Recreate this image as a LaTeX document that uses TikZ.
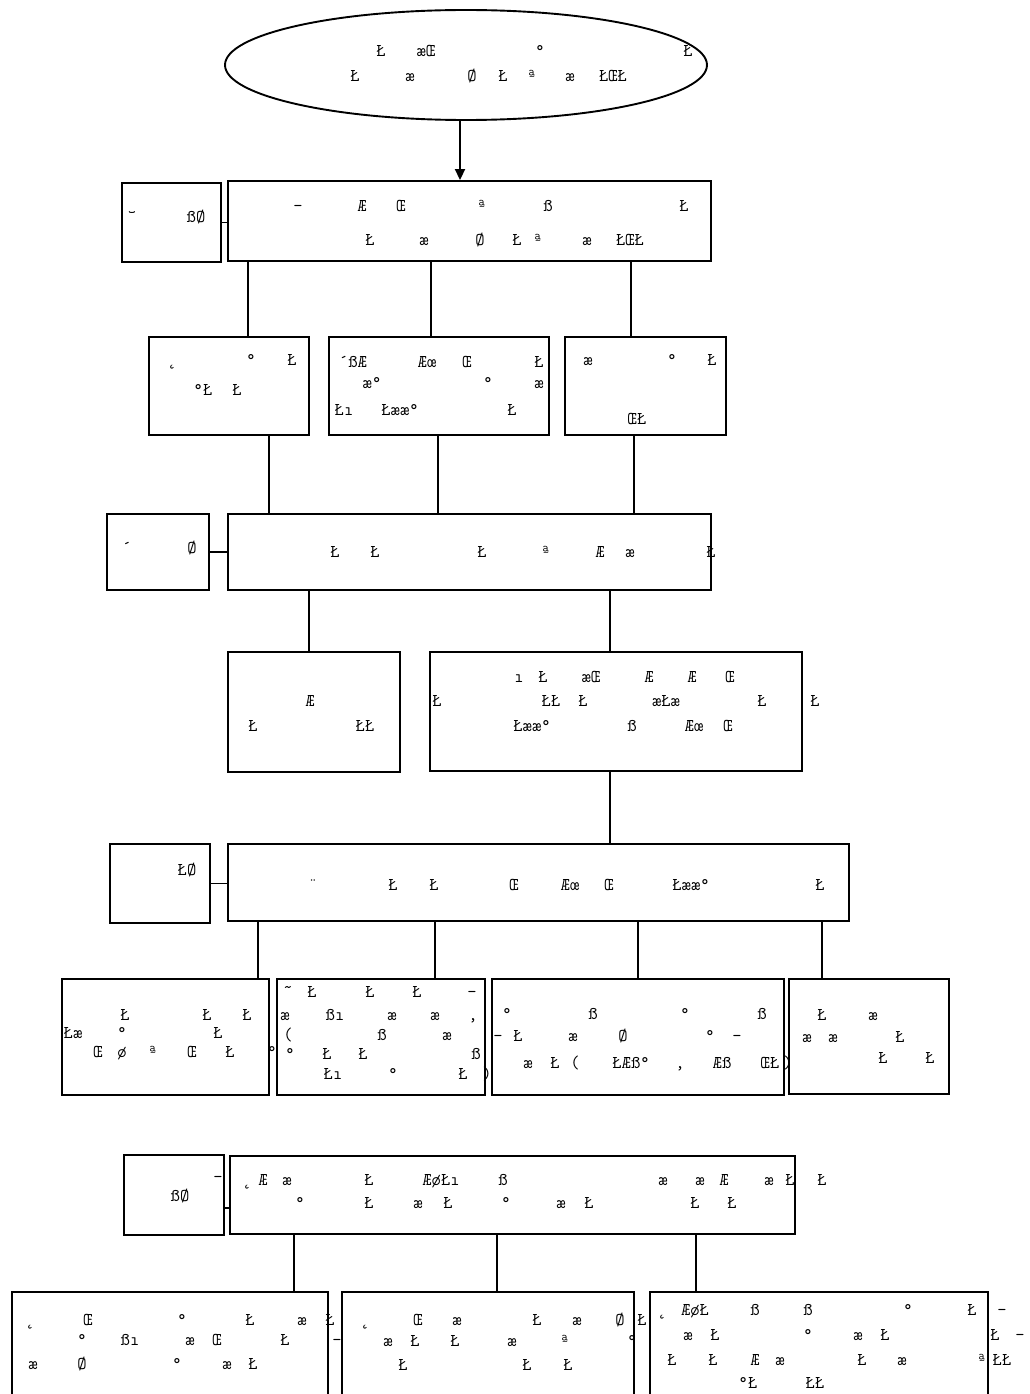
\documentclass[tikz,border=0pt]{standalone}
\usepackage{fontspec}
\usetikzlibrary{shapes.geometric,arrows.meta}
\newcommand\mkbox[5]{\node[bx,minimum width={(#4)-(#2)},minimum height={(#5)-(#3)}] (#1) at ({((#2)+(#4))/2},{((#3)+(#5))/2}) {};}
\newcommand\tl[3]{\foreach \xx/\ss [count=\i] in {#3} {\node[tx] (#1-\i) at (\xx,#2) {\ss};}}
\newcommand\vc[3]{\coordinate (v#1#2) at (#3,0); \draw[ln] (v#1#2 |- #1.south) -- (v#1#2 |- #2.north);}
\begin{document}
\begin{tikzpicture}[x=1pt,y=-1pt,
  bx/.style={draw,line width=1.9pt,rectangle,inner sep=0pt},
  tx/.style={anchor=base,inner sep=0pt,font=\ttfamily\fontsize{18}{18}\selectfont\addfontfeatures{LetterSpace=18}},
  ln/.style={line width=1.9pt},
  arr/.style={line width=1.9pt,-{Triangle[length=11pt,width=10pt]}}]
\useasboundingbox (0,0) rectangle (1029,1394);
\clip (0,0) rectangle (1029,1394);
\fill[white] (0,0) rectangle (1029,1394);
% shapes
\node[draw,ellipse,line width=1.9pt,minimum width=482pt,minimum height=110pt,inner sep=0pt] (e) at (466,65) {};
\mkbox{l1}{122}{183}{221}{262}
\mkbox{m1}{228}{181}{711}{261}
\mkbox{b3a}{149}{337}{309}{435}
\mkbox{b3b}{329}{337}{549}{435}
\mkbox{b3c}{565}{337}{726}{435}
\mkbox{l2}{107}{514}{209}{590}
\mkbox{m2}{228}{514}{711}{590}
\mkbox{b5a}{228}{652}{400}{772}
\mkbox{b5b}{430}{652}{802}{771}
\mkbox{l3}{110}{844}{210}{923}
\mkbox{m3}{228}{844}{849}{921}
\mkbox{b7a}{62}{979}{269}{1095}
\mkbox{b7b}{277}{979}{485}{1095}
\mkbox{b7c}{492}{979}{784}{1095}
\mkbox{b7d}{789}{979}{949}{1094}
\mkbox{l4}{124}{1155}{224}{1235}
\mkbox{m4}{230}{1156}{795}{1234}
\mkbox{b9a}{12}{1292}{328}{1420}
\mkbox{b9b}{342}{1292}{634}{1420}
\mkbox{b9c}{650}{1292}{988}{1420}
% connectors
\coordinate (va) at (460,0);
\draw[arr] (va |- e.south) -- (va |- m1.north);
\draw[ln] (l1.east) -- (l1.east -| m1.west);
\draw[ln] (l2.east) -- (l2.east -| m2.west);
\draw[ln] (l3.east) -- (l3.east -| m3.west);
\draw[ln] ([yshift=-13pt]l4.east) -- ([yshift=-13pt]l4.east -| m4.west);
\vc{m1}{b3a}{248}
\vc{m1}{b3b}{431}
\vc{m1}{b3c}{631}
\vc{b3a}{m2}{269}
\vc{b3b}{m2}{438}
\vc{b3c}{m2}{634}
\vc{m2}{b5a}{309}
\vc{m2}{b5b}{610}
\vc{b5b}{m3}{610}
\vc{m3}{b7a}{258}
\vc{m3}{b7b}{435}
\vc{m3}{b7c}{638}
\vc{m3}{b7d}{822}
\vc{m4}{b9a}{294}
\vc{m4}{b9b}{497}
\vc{m4}{b9c}{696}
% texts
\tl{ea}{57}{381/Ł,426/æŒ,540/°,688/Ł}
\tl{eb}{82}{355/Ł,410/æ,472/Ø,503/Ł,532/ª,570/æ,613/ŁŒŁ}
\tl{l1a}{222}{132/˘,196/ßØ}
\tl{m1a}{211}{298/—,362/Æ,401/Œ,482/ª,548/ß,684/Ł}
\tl{m1b}{245}{370/Ł,424/æ,480/Ø,517/Ł,538/ª,587/æ,630/ŁŒŁ}
\tl{3aa}{365}{172/˛,251/°,292/Ł}
\tl{3ab}{395}{203/°Ł,237/Ł}
\tl{3ba}{367}{353/´ßÆ,427/Æœ,467/Œ,539/Ł}
\tl{3bb}{388}{372/æ°,488/°,539/æ}
\tl{3bc}{415}{344/Łı,400/Łææ°,512/Ł}
\tl{3ca}{365}{588/æ,672/°,712/Ł}
\tl{3cb}{424}{637/ŒŁ}
\tl{l2a}{553}{127/´,192/Ø}
\tl{m2a}{557}{335/Ł,375/Ł,482/Ł,546/ª,600/Æ,630/æ,711/Ł}
\tl{5aa}{706}{310/Æ}
\tl{5ab}{731}{253/Ł,365/ŁŁ}
\tl{5ba}{682}{519/ı,543/Ł,591/æŒ,649/Æ,692/Æ,730/Œ}
\tl{5bb}{706}{437/Ł,551/ŁŁ,583/Ł,666/æŁæ,762/Ł,815/Ł}
\tl{5bc}{731}{532/Łææ°,632/ß,694/Æœ,728/Œ}
\tl{l3a}{875}{187/ŁØ}
\tl{m3a}{890}{313/¨,393/Ł,434/Ł,514/Œ,570/Æœ,609/Œ,691/Łææ°,820/Ł}
\tl{7aa}{1020}{125/Ł,207/Ł,247/Ł}
\tl{7ab}{1038}{73/Łæ,122/°,218/Ł}
\tl{7ac}{1057}{98/Œ,122/ø,153/ª,192/Œ,230/Ł,272/°}
\tl{7ba}{997}{288/˜,312/Ł,370/Ł,417/Ł,472/–}
\tl{7bb}{1020}{285/æ,335/ßı,392/æ,435/æ,473/{,}}
\tl{7bc}{1040}{288/{(},382/ß,447/æ}
\tl{7bd}{1059}{290/°,327/Ł,363/Ł,476/ß}
\tl{7be}{1079}{333/Łı,393/°,463/Ł,487/{)}}
\tl{7ca}{1019}{507/°,593/ß,685/°,762/ß}
\tl{7cb}{1041}{498/–,518/Ł,573/æ,623/Ø,710/°,737/–}
\tl{7cc}{1068}{528/æ,555/Ł,575/{(},631/ŁÆß°,680/{,},722/Æß,770/ŒŁ,788/{)}}
\tl{7da}{1020}{822/Ł,873/æ}
\tl{7db}{1042}{807/æ,833/æ,900/Ł}
\tl{7dc}{1063}{883/Ł,930/Ł}
\tl{l4a}{1182}{218/–}
\tl{l4b}{1201}{180/ßØ}
\tl{m4a}{1185}{247/˛,263/Æ,287/æ,369/Ł,441/ÆøŁı,503/ß,663/æ,700/æ,724/Æ,769/æ,790/Ł,822/Ł}
\tl{m4b}{1208}{300/°,369/Ł,418/æ,448/Ł,506/°,561/æ,589/Ł,695/Ł,732/Ł}
\tl{9aa}{1325}{30/˛,88/Œ,182/°,250/Ł,302/æ,330/Ł}
\tl{9ab}{1345}{82/°,130/ßı,190/æ,217/Œ,285/Ł,337/-}
\tl{9ac}{1369}{33/æ,82/Ø,177/°,227/æ,253/Ł}
\tl{9ba}{1325}{365/˛,418/Œ,457/æ,537/Ł,577/æ,620/Ø,642/Ł}
\tl{9bb}{1346}{388/æ,415/Ł,455/Ł,512/æ,565/ª,632/°}
\tl{9bc}{1370}{403/Ł,527/Ł,568/Ł}
\tl{9ca}{1315}{662/˛,695/ÆøŁ,755/ß,808/ß,908/°,972/Ł,1002/–}
\tl{9cb}{1340}{688/æ,715/Ł,808/°,858/æ,885/Ł,995/Ł,1020/–}
\tl{9cc}{1365}{672/Ł,713/Ł,755/Æ,780/æ,862/Ł,902/æ,982/ª,1002/ŁŁ}
\tl{9cd}{1388}{748/°Ł,815/ŁŁ}
\end{tikzpicture}
\end{document}
